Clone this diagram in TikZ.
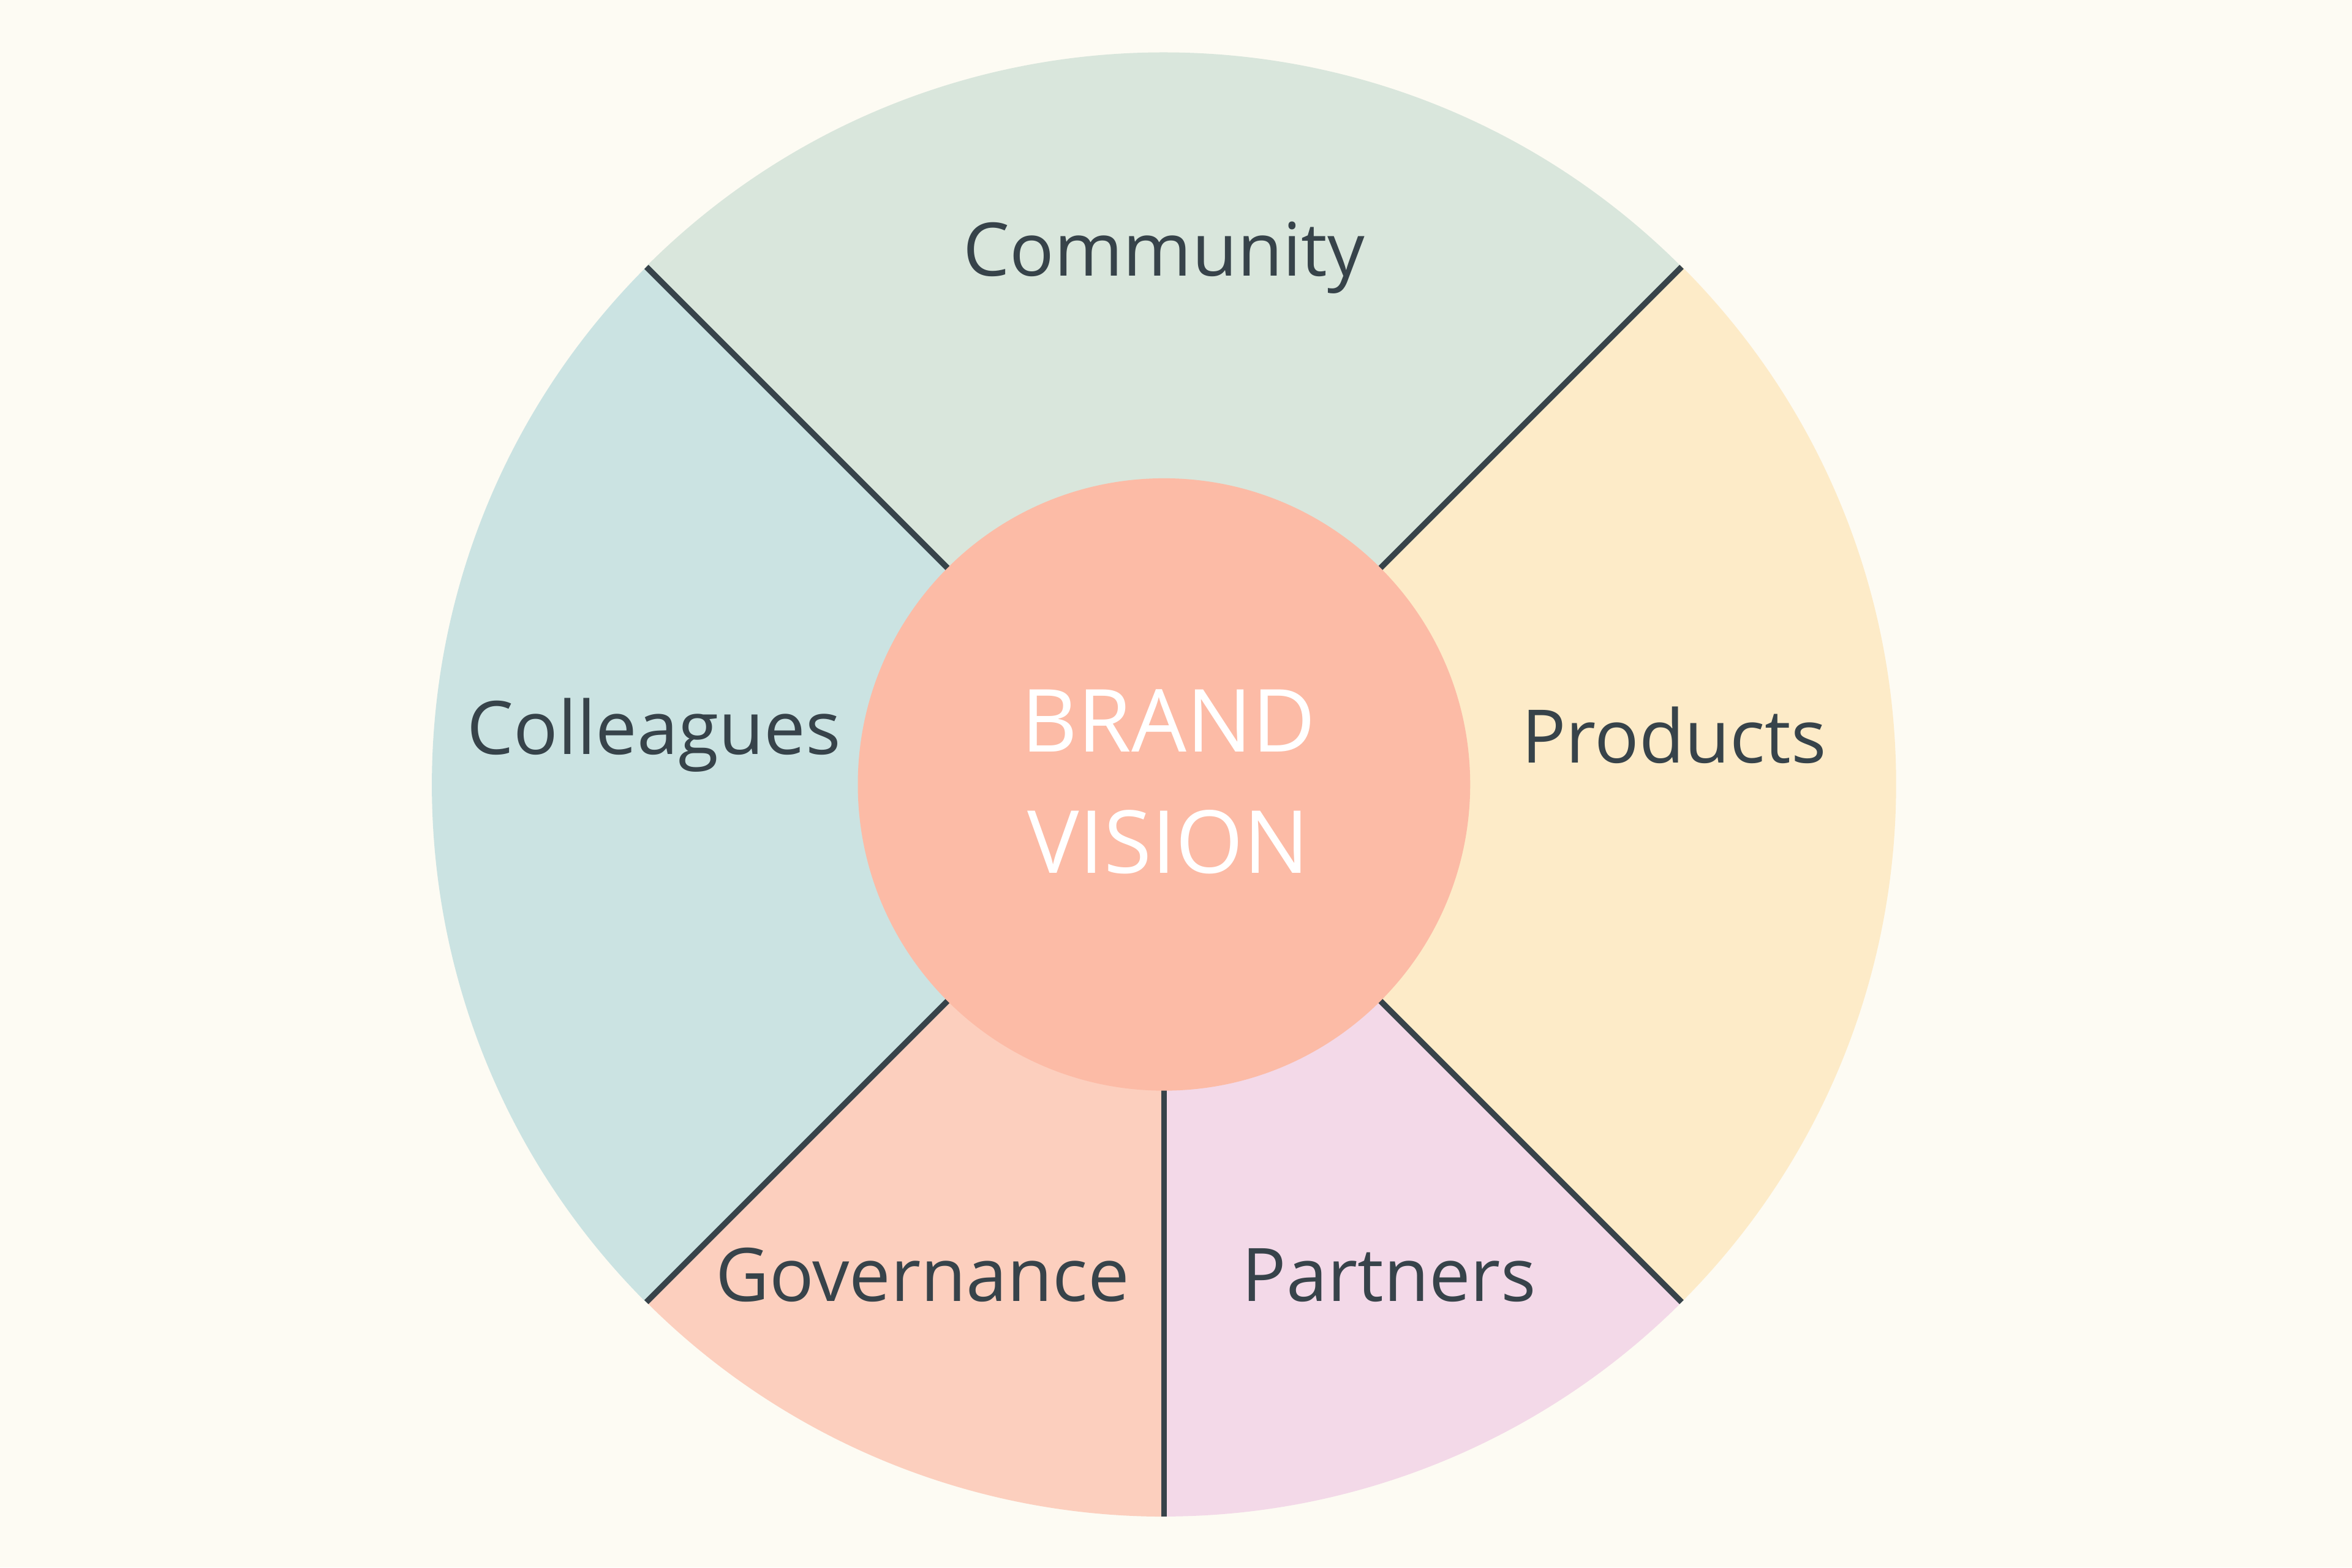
\documentclass[tikz,border=0pt]{standalone}
\usepackage{fontspec}
\setmainfont{Open Sans}
\definecolor{bg}{HTML}{FDFBF3}
\definecolor{ccom}{HTML}{D9E6DC}
\definecolor{ccol}{HTML}{CBE3E2}
\definecolor{cpro}{HTML}{FDEBC8}
\definecolor{cgov}{HTML}{FCCFBE}
\definecolor{cpar}{HTML}{F3D9E8}
\definecolor{ccen}{HTML}{FCBBA6}
\definecolor{txt}{HTML}{37434A}
\begin{document}
\begin{tikzpicture}[x=0.01cm,y=0.01cm,
  lbl/.style={text=txt,font=\fontsize{14}{16}\selectfont},
  divider/.style={draw=txt,line width=1.1pt}]
\fill[bg] (0,0) rectangle (1568,1045);
\useasboundingbox (0,0) rectangle (1568,1045);
\coordinate (C) at (776,522);
\foreach \a/\b/\c in {45/135/ccom,135/225/ccol,225/270/cgov,270/315/cpar,-45/45/cpro}{
  \fill[\c] (C) -- ([shift={(\a:488)}]C) arc[start angle=\a,end angle=\b,radius=4.88cm] -- cycle;
}
\foreach \a in {45,135,225,270,315}{
  \coordinate (i\a) at ([shift={(\a:204)}]C);
  \coordinate (o\a) at ([shift={(\a:488)}]C);
  \draw[divider] (i\a) -- (o\a);
}
\node[circle,fill=ccen,minimum size=4.08cm,inner sep=0pt] (center) at (776,522) {};
\node[text=white,font=\fontsize{16.5}{23}\selectfont,align=center] (bv) at (779,524) {BRAND\\VISION};
\node[lbl] (com) at (776,873) {Community};
\node[lbl] (col) at (436,555) {Colleagues};
\node[lbl] (pro) at (1116,555) {Products};
\node[lbl] (gov) at (615,195) {Governance};
\node[lbl] (par) at (926,195) {Partners};
\end{tikzpicture}
\end{document}
